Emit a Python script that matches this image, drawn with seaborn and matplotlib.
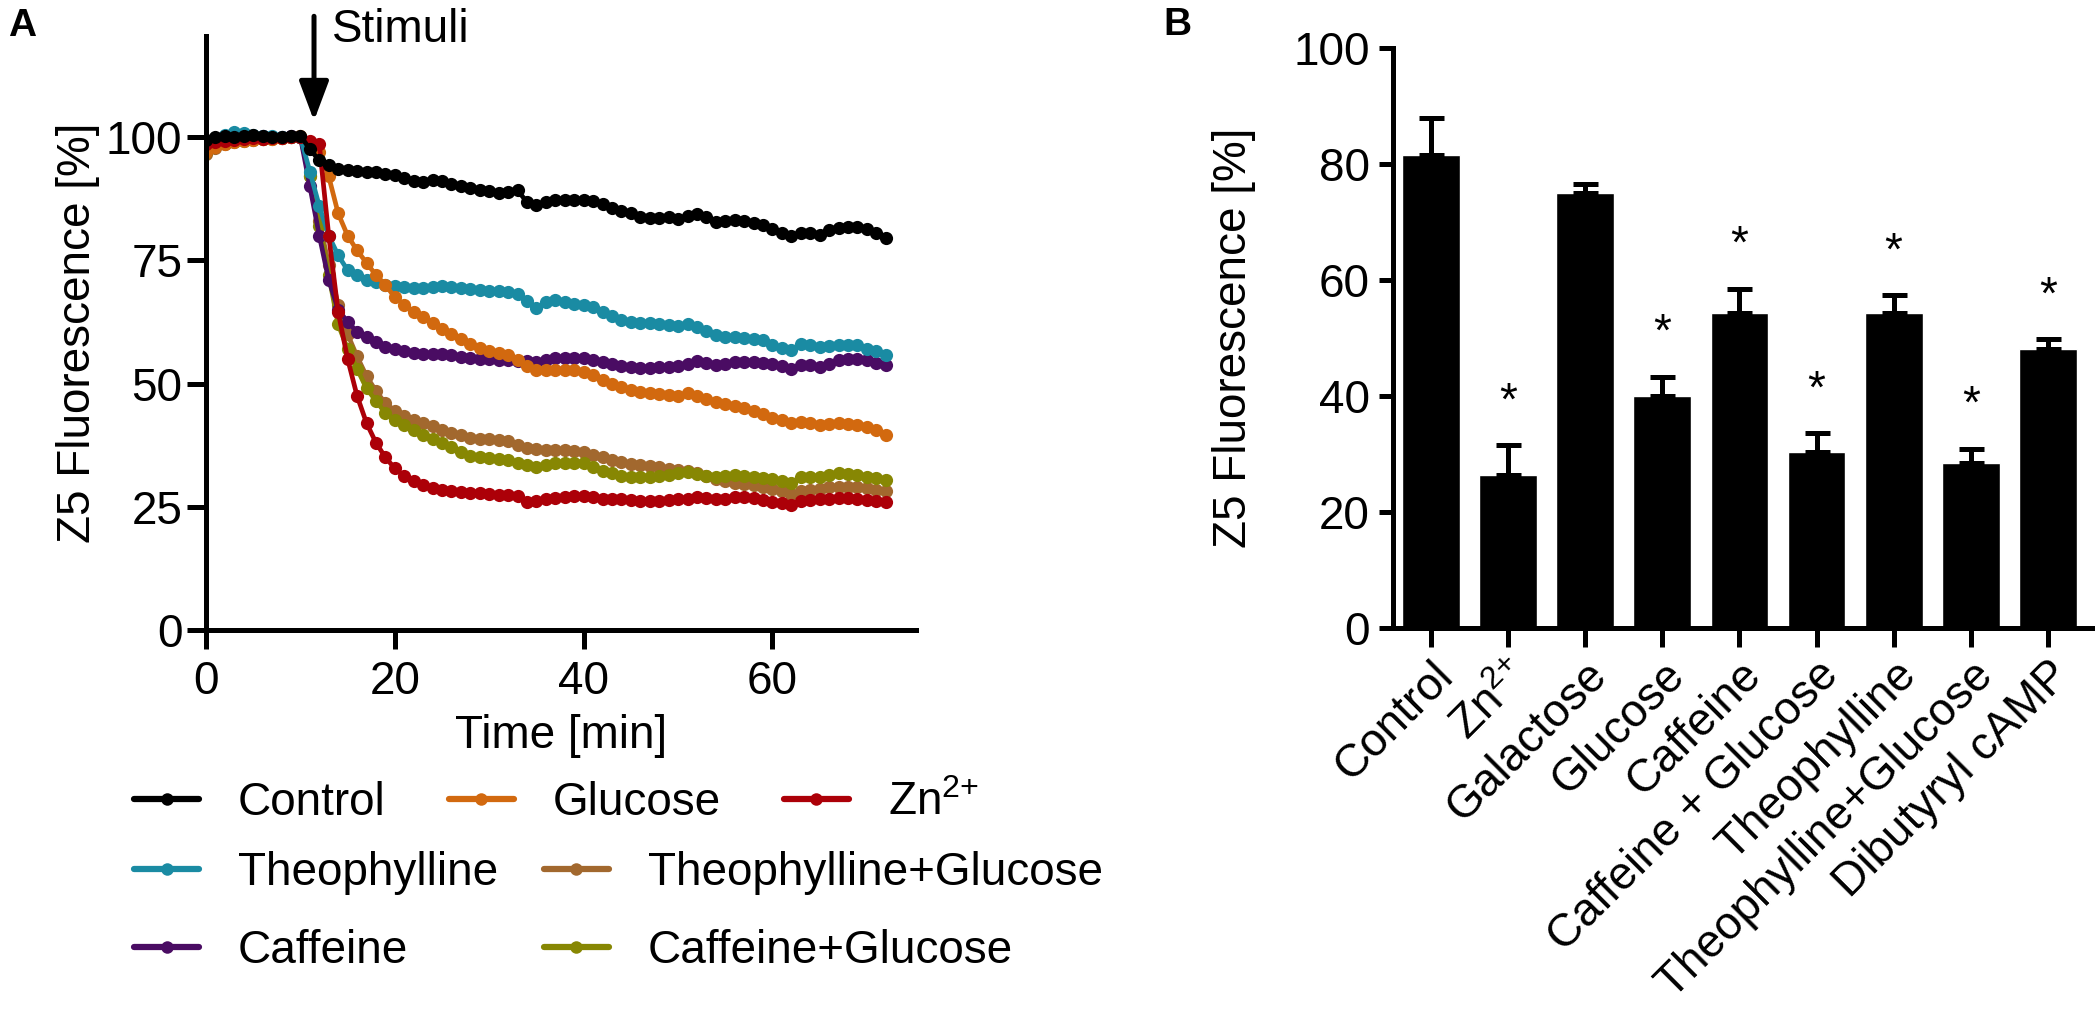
import numpy as np
import pandas as pd
import matplotlib
matplotlib.use("Agg")
import matplotlib.pyplot as plt
import seaborn as sns
from matplotlib.lines import Line2D

# ---------------- panel A: Z5 fluorescence time course (one reading per minute)
time_min = list(range(0, 73))

control = [99.5, 100, 100.2, 100, 100.3, 100.4, 100.2, 100, 100, 100.2, 100.3,
           97.5, 95.3, 94.3, 93.6, 93.3, 93.2, 93, 93, 92.6, 92.3,
           91.6, 91, 90.8, 91.3, 91, 90.5, 90, 89.7, 89.3, 89,
           88.7, 88.9, 89.2, 86.8, 86.3, 86.8, 87.2, 87.2, 87.2, 87.2,
           87, 86.4, 85.7, 85.1, 84.5, 83.8, 83.5, 83.6, 83.7, 83.3,
           84, 84.4, 83.8, 82.8, 82.9, 83.2, 83, 82.6, 82.1, 81.3,
           80.6, 79.9, 80.6, 80.6, 80.1, 81.2, 81.5, 81.7, 81.8, 81.3,
           80.5, 79.5]
glucose = [97, 98, 98.6, 99, 99.3, 99.5, 99.6, 99.7, 99.8, 100, 100.3,
           99, 97, 92, 84.5, 80, 77, 74.5, 72, 70, 67.5,
           66, 64.5, 63.5, 62.3, 61, 60, 59, 58, 57.2, 56.6,
           56.2, 55.7, 54.8, 53.6, 52.7, 52.7, 52.8, 52.8, 52.7, 52.3,
           51.8, 50.8, 50, 49.2, 48.6, 48.3, 48.1, 47.9, 47.6, 47.5,
           48, 47.5, 46.8, 46.3, 45.8, 45.4, 45, 44.5, 43.9, 43.1,
           42.5, 41.9, 42.1, 42, 41.6, 41.7, 41.9, 41.8, 41.6, 41.1,
           40.6, 39.6]
zinc = [98.5, 99, 99.3, 99.5, 99.7, 99.8, 99.7, 99.8, 99.9, 100, 100,
        99.2, 98.5, 80, 64.5, 55, 47.5, 42, 38, 35, 32.8,
        31.2, 30.2, 29.5, 28.9, 28.4, 28.2, 28, 27.8, 27.7, 27.5,
        27.4, 27.3, 27.1, 26, 26.1, 26.5, 26.8, 27, 27.1, 27.1,
        26.9, 26.6, 26.5, 26.5, 26.4, 26.2, 26.1, 26.2, 26.3, 26.5,
        26.6, 27, 26.8, 26.5, 26.6, 27, 26.9, 26.7, 26.3, 26,
        25.7, 25.4, 26.2, 26.4, 26.5, 26.6, 26.7, 26.7, 26.6, 26.4,
        26.2, 26]
theophylline = [98.5, 99.8, 100.5, 101, 100.8, 100.5, 100.3, 100.2, 100, 100, 100,
                93, 86, 80, 76, 73, 72, 71, 70.5, 70, 69.8,
                69.5, 69.3, 69.3, 69.5, 69.7, 69.5, 69.3, 69.1, 69, 68.8,
                68.7, 68.6, 68.2, 66.8, 65.3, 66.5, 66.9, 66.6, 66.2, 65.9,
                65.6, 64.6, 63.6, 62.9, 62.4, 62.3, 62.2, 62, 61.8, 61.6,
                62, 61.4, 60.6, 59.9, 59.5, 59.5, 59.3, 59.1, 58.8, 57.9,
                57.3, 56.8, 58.1, 57.8, 57.5, 57.7, 57.8, 57.8, 57.8, 57.1,
                56.5, 55.8]
theo_glucose = [96.5, 97.8, 98.5, 99, 99.3, 99.5, 99.6, 99.7, 99.8, 100, 100,
                92, 83, 74, 66, 60, 55.5, 51.5, 48.5, 46, 44.5,
                43.5, 42.5, 42, 41.3, 40.5, 40, 39.5, 39, 38.8, 38.7,
                38.6, 38.4, 37.6, 36.9, 36.7, 36.6, 36.5, 36.5, 36.4, 36.1,
                35.6, 35.1, 34.5, 34, 33.7, 33.4, 33.2, 33, 32.7, 32.5,
                32.2, 31.8, 31.2, 30.6, 30.2, 29.9, 29.7, 29.4, 29, 28.6,
                28.2, 27.6, 28.1, 28.4, 28.7, 29, 29.1, 29.1, 29.1, 28.9,
                28.5, 28.1]
caffeine = [99, 99.5, 99.8, 100, 100.2, 100.3, 100.2, 100, 100, 100.2, 100,
            90, 80, 71, 65, 62.5, 60.5, 59.5, 58.5, 57.5, 57,
            56.5, 56.2, 56, 56, 56, 55.7, 55.4, 55.2, 55, 54.9,
            54.8, 54.7, 54.6, 54.5, 54.4, 54.8, 55.1, 55.2, 55.2, 55.1,
            54.8, 54.3, 53.9, 53.6, 53.3, 53.1, 53.1, 53.3, 53.4, 53.5,
            54, 54.5, 54.2, 53.8, 53.9, 54.4, 54.4, 54.3, 54.1, 53.9,
            53.5, 53, 53.8, 53.8, 53.4, 54, 54.7, 55, 55, 54.7,
            54.2, 53.8]
caff_glucose = [97, 98.3, 98.8, 99.2, 99.5, 99.6, 99.7, 99.8, 99.9, 100, 100,
                92, 82, 72, 62, 57, 53, 49, 46.5, 44, 42.5,
                41.5, 40.5, 39.5, 38.8, 38, 37.2, 36.2, 35.3, 35, 34.8,
                34.6, 34.4, 33.9, 33.4, 33.1, 33.4, 33.8, 33.9, 33.9, 33.8,
                33, 32.2, 31.8, 31.3, 31.1, 31.1, 31.1, 31.2, 31.5, 31.8,
                32, 31.7, 31.3, 31.1, 31.3, 31.4, 31.3, 31.1, 30.9, 30.6,
                30.2, 29.9, 31, 31.1, 31.1, 31.5, 31.8, 31.6, 31.4, 31.1,
                30.8, 30.4]

ZN = r"Zn$^{2{+}}$"
treatments = ["Control", "Glucose", ZN, "Theophylline",
              "Theophylline+Glucose", "Caffeine", "Caffeine+Glucose"]
series = [control, glucose, zinc, theophylline, theo_glucose, caffeine, caff_glucose]
colors = ["#000000", "#D2690F", "#AC0008", "#1A8BA3", "#A2682E", "#4A0C63", "#878703"]

# ---------------- panel B: end-point fluorescence
conditions = ["Control", ZN, "Galactose", "Glucose", "Caffeine",
              "Caffeine + Glucose", "Theophylline", "Theophylline+Glucose",
              "Dibutyryl cAMP"]
mean_fluo = [81.5, 26.4, 75.0, 40.0, 54.3, 30.3, 54.3, 28.4, 48.1]
sem_fluo = [6.5, 5.1, 1.5, 3.3, 4.2, 3.3, 3.1, 2.5, 1.7]
significant = [False, True, False, True, True, True, True, True, True]

# ---------------- style
sns.set_theme(style="ticks", rc={
    "axes.edgecolor": "black", "axes.labelcolor": "black", "text.color": "black",
    "xtick.color": "black", "ytick.color": "black", "axes.linewidth": 3.6,
})
plt.rcParams["font.family"] = ["Liberation Sans", "DejaVu Sans"]
plt.rcParams["mathtext.fontset"] = "custom"
plt.rcParams["mathtext.rm"] = "Liberation Sans"
plt.rcParams["mathtext.default"] = "regular"
FS = 33

W, H = 2096, 1022
fig = plt.figure(figsize=(W / 100, H / 100), dpi=100)

# ---------------- panel A
axA = fig.add_axes([206 / W, (H - 630) / H, 710 / W, 594 / H])
df = pd.DataFrame({
    "time": time_min * len(series),
    "fluo": sum(series, []),
    "treatment": np.repeat(treatments, len(time_min)),
})
draw_order = ["Theophylline+Glucose", "Caffeine+Glucose", "Caffeine", "Theophylline",
              "Glucose", ZN, "Control"]
palette = dict(zip(treatments, colors))
sns.lineplot(data=df, x="time", y="fluo", hue="treatment", hue_order=draw_order,
             palette=palette, marker="o", markersize=9.5, markeredgewidth=0,
             linewidth=3.4, estimator=None, legend=False, ax=axA)
axA.set_xlim(0, 75.2)
axA.set_ylim(0, 120.5)
axA.set_xticks([0, 20, 40, 60])
axA.set_yticks([0, 25, 50, 75, 100])
axA.set_xlabel("Time [min]", fontsize=FS, labelpad=7)
axA.set_ylabel("Z5 Fluorescence [%]", fontsize=FS, labelpad=4)
axA.tick_params(axis="both", length=13.5, width=3.6, labelsize=FS)
axA.tick_params(axis="x", pad=8)
axA.tick_params(axis="y", pad=3.5)
sns.despine(ax=axA)

# stimulus arrow
axA.annotate("", xy=(11.44, 103.3), xytext=(11.44, 124.5),
             arrowprops=dict(arrowstyle="-|>,head_length=24,head_width=9",
                             mutation_scale=1, lw=3.6, color="black",
                             shrinkA=0, shrinkB=0),
             annotation_clip=False)
axA.text(13.35, 119.3, "Stimuli", fontsize=FS, ha="left", va="baseline", clip_on=False)

# legend below panel A
handles = {t: Line2D([], [], color=c, lw=4.5, marker="o", markersize=9,
                     markeredgewidth=0) for t, c in zip(treatments, colors)}
leg_kw = dict(frameon=False, fontsize=FS, borderpad=0, borderaxespad=0,
              handlelength=1.42, handletextpad=0.85, loc="center left")
row1 = ["Control", "Glucose", ZN]
fig.legend([handles[t] for t in row1], row1, ncol=3, columnspacing=1.37,
           bbox_to_anchor=(134 / W, 1 - 803 / H), **leg_kw)
rows23 = ["Theophylline", "Caffeine", "Theophylline+Glucose", "Caffeine+Glucose"]
fig.legend([handles[t] for t in rows23], rows23, ncol=2, columnspacing=0.99,
           labelspacing=0.75, bbox_to_anchor=(134 / W, 1 - 912 / H), **leg_kw)

# ---------------- panel B
axB = fig.add_axes([1393 / W, (H - 628) / H, 699 / W, 580 / H])
sns.barplot(x=conditions, y=mean_fluo, color="black", saturation=1, width=0.75,
            errorbar=None, ax=axB)
pos = np.arange(len(conditions))
axB.errorbar(pos, mean_fluo, yerr=[np.zeros(len(pos)), sem_fluo], fmt="none",
             ecolor="black", elinewidth=3.6, capsize=9, capthick=3.6)
for i, (m, s, sig) in enumerate(zip(mean_fluo, sem_fluo, significant)):
    if sig:
        axB.text(i, m + s + 5.3, "*", ha="center", va="baseline", fontsize=FS)
axB.set_xlim(-0.493, 8.573)
axB.set_ylim(0, 100)
axB.set_yticks([0, 20, 40, 60, 80, 100])
axB.set_ylabel("Z5 Fluorescence [%]", fontsize=FS, labelpad=27)
axB.set_xlabel("")
axB.tick_params(axis="y", length=10, width=3.6, labelsize=FS, pad=6.5)
axB.tick_params(axis="x", length=14, width=3.6, labelsize=FS, pad=4)
axB.set_xticks(pos)
axB.set_xticklabels(conditions, rotation=45, ha="right", rotation_mode="anchor")
sns.despine(ax=axB)

# panel letters
fig.text(22 / W, 1 - 26 / H, "A", fontsize=28, fontweight="bold", ha="center", va="center")
fig.text(1177 / W, 1 - 25 / H, "B", fontsize=28, fontweight="bold", ha="center", va="center")

fig.savefig("out.png", dpi=100)
